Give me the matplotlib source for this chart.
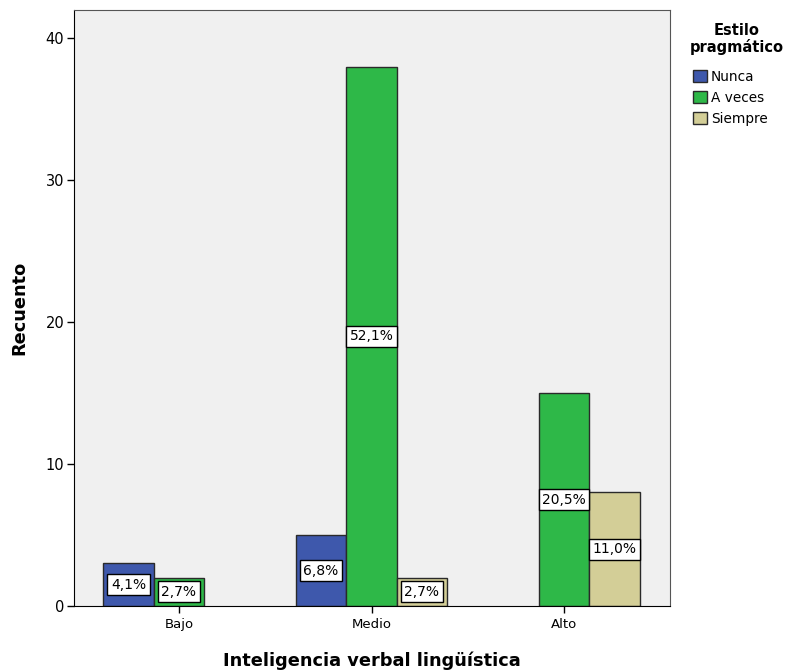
import numpy as np
import matplotlib.pyplot as plt

categories = ["Bajo", "Medio", "Alto"]
series = ["Nunca", "A veces", "Siempre"]
counts = {
    "Nunca": [3, 5, 0],
    "A veces": [2, 38, 15],
    "Siempre": [0, 2, 8],
}
percents = {
    "Nunca": ["4,1%", "6,8%", None],
    "A veces": ["2,7%", "52,1%", "20,5%"],
    "Siempre": [None, "2,7%", "11,0%"],
}
colors = {"Nunca": "#3E58AC", "A veces": "#2EB848", "Siempre": "#D3CE97"}


def main():
    plt.rcParams['font.family'] = ['DejaVu Sans']
    fig = plt.figure(figsize=(7.87, 6.72), dpi=100)
    ax = fig.add_axes([74 / 787, 1 - 606 / 672, (670 - 74) / 787, (606 - 10) / 672])
    ax.set_facecolor("#F0F0F0")

    x = np.arange(len(categories))
    width = 0.262
    for i, name in enumerate(series):
        vals = np.array(counts[name], dtype=float)
        keep = vals > 0
        pos = x + (i - 1) * width
        ax.bar(pos[keep], vals[keep], width, color=colors[name], edgecolor="#2a2a2a",
               linewidth=1, label=name)
        for p, v, t in zip(pos, vals, percents[name]):
            if t is None:
                continue
            ax.text(p, max(v / 2, 0.72), t, ha="center", va="center", fontsize=10,
                    bbox=dict(boxstyle="square,pad=0.25", fc="white", ec="black", lw=1))

    ax.set_xlim(-0.545, 2.55)
    ax.set_ylim(0, 42)
    ax.set_xticks(x)
    ax.set_xticklabels(categories, fontsize=9.5)
    ax.set_yticks([0, 10, 20, 30, 40])
    ax.tick_params(axis="y", labelsize=10.5, length=5, width=1, pad=2)
    ax.tick_params(axis="x", length=5, width=1)
    for s in ["top", "right"]:
        ax.spines[s].set_color("#555555")
    ax.set_ylabel("Recuento", fontsize=12.8, fontweight="bold", labelpad=12)
    ax.set_xlabel("Inteligencia verbal lingüística", fontsize=12.8, fontweight="bold", labelpad=15)

    fig.text(737 / 787, 1 - 39 / 672, "Estilo\npragmático", ha="center", va="center",
             fontsize=10.5, fontweight="bold", linespacing=1.15)
    ax.legend(loc="upper left", bbox_to_anchor=(693 / 787, 1 - 70 / 672),
              bbox_transform=fig.transFigure, frameon=False, fontsize=9.8,
              handlelength=1.0, handleheight=1.0, handletextpad=0.3,
              labelspacing=0.5, borderaxespad=0, borderpad=0)

    fig.savefig("out.png", dpi=100)


if __name__ == "__main__":
    main()
